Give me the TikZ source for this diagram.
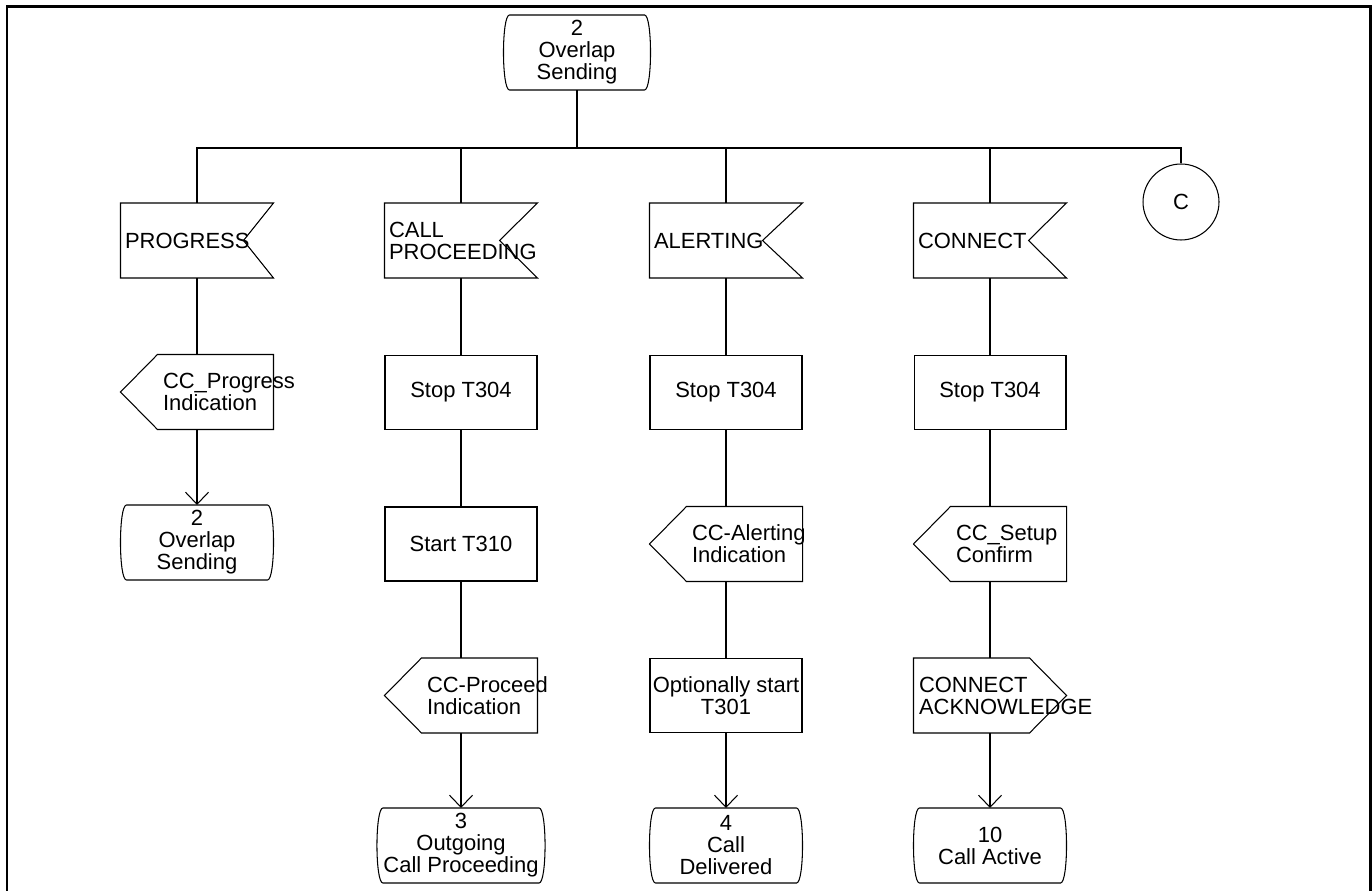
\documentclass[tikz,border=0pt]{standalone}
\usepackage{fontspec}
\setmainfont{Liberation Sans}
\usetikzlibrary{calc,arrows.meta}
\newcommand{\sdlfont}{\fontsize{12.5}{12.5}\selectfont\hyphenpenalty=10000\exhyphenpenalty=10000\relax}
\def\sdlinput(#1:#2){\draw (#1.north west) -- (#1.north east) -- ($(#1.east)+(-#2,0)$) -- (#1.south east) -- (#1.south west) -- cycle;}
\def\sdloutleft(#1){\draw (#1.north west) -- (#1.north east) -- (#1.south east) -- (#1.south west) -- ($(#1.west)+(-37,0)$) -- cycle;}
\def\sdloutright(#1){\draw (#1.north west) -- (#1.north east) -- ($(#1.east)+(37,0)$) -- (#1.south east) -- (#1.south west) -- cycle;}
\def\sdlstate(#1){\draw (#1.north west) -- (#1.north east) .. controls ($(#1.north east)+(8,0)$) and ($(#1.south east)+(8,0)$) .. (#1.south east) -- (#1.south west) .. controls ($(#1.south west)+(-8,0)$) and ($(#1.north west)+(-8,0)$) .. (#1.north west) -- cycle;}
\tikzset{
	sdl/.style={rectangle, inner sep=0pt, minimum height=1.48cm, font=\sdlfont},
	task/.style={sdl, draw, minimum width=3.04cm, align=center},
	state/.style={sdl, minimum width=2.8cm, align=center},
	insig/.style={sdl, minimum width=3.04cm, inner xsep=0.08cm, text width=2.88cm, align=left},
	outsig/.style={sdl, minimum width=2.3cm, inner xsep=0.1cm, text width=2.1cm, align=left},
	conn/.style={circle, draw, inner sep=0pt, minimum size=1.52cm, font=\sdlfont},
	sdlarrow/.style={-{Straight Barb[length=0.24cm,width=0.46cm]}}
}
\begin{document}
\begin{tikzpicture}[x=0.02cm, y=-0.02cm, line width=0.6pt]
			%%%%% START %%%%%
			\useasboundingbox (0,0) rectangle (1372,891);
			\draw[line width=1.7pt] (7,891) -- (7,7) -- (1370,7) -- (1370,891);
			
			% start state and branches
			\node[state, minimum width=2.68cm] (st0) at (577,52.5) {2\\Overlap\\Sending};
			\sdlstate(st0)
			\draw (st0.south) -- ++(0,58) coordinate (bus);
			
			\node[insig] (in1) at (197,240.5) {PROGRESS};
			\node[insig] (in2) at (461,240.5) {CALL\\PROCEEDING};
			\node[insig] (in3) at (726,240.5) {ALERTING};
			\node[insig] (in4) at (990,240.5) {CONNECT};
			\sdlinput(in1:30)
			\sdlinput(in2:38)
			\sdlinput(in3:40)
			\sdlinput(in4:38)
			\node[conn] (cc) at (1181,202) {C};
			
			\draw (in1.north) |- (bus);
			\draw (in2.north) |- (bus);
			\draw (in3.north) |- (bus);
			\draw (in4.north) |- (bus);
			\draw (cc.north) |- (bus);
			
			% PROGRESS
			\node[outsig] (out1) at (215.5,392) {CC\_Progress\\Indication};
			\sdloutleft(out1)
			\node[state] (st1) at (197,542.5) {2\\Overlap\\Sending};
			\sdlstate(st1)
			\draw (in1.south) -- (in1.south |- out1.north);
			\draw[sdlarrow] (st1.north |- out1.south) -- (st1.north);
			
			% CALL PROCEEDING
			\node[task] (stop2) at (461,392.5) {Stop T304};
			\node[task] (start2) at (461,544) {Start T310};
			\node[outsig] (out2) at (479.5,695.5) {CC-Proceed\\Indication};
			\sdloutleft(out2)
			\node[state] (st2) at (461,845.5) {3\\Outgoing\\Call Proceeding};
			\sdlstate(st2)
			\draw (in2.south) -- (stop2.north);
			\draw (stop2.south) -- (start2.north);
			\draw (start2.south) -- (start2.south |- out2.north);
			\draw[sdlarrow] (st2.north |- out2.south) -- (st2.north);
			
			% ALERTING
			\node[task] (stop3) at (726,392.5) {Stop T304};
			\node[outsig] (out3) at (744.5,544) {CC-Alerting\\Indication};
			\sdloutleft(out3)
			\node[task] (opt3) at (726,695.5) {Optionally start\\T301};
			\node[state] (st3) at (726,845.5) {4\\Call\\Delivered};
			\sdlstate(st3)
			\draw (in3.south) -- (stop3.north);
			\draw (stop3.south) -- (stop3.south |- out3.north);
			\draw (opt3.north |- out3.south) -- (opt3.north);
			\draw[sdlarrow] (opt3.south) -- (st3.north);
			
			% CONNECT
			\node[task] (stop4) at (990,392.5) {Stop T304};
			\node[outsig] (out4) at (1008.5,544) {CC\_Setup\\Confirm};
			\sdloutleft(out4)
			\node[outsig] (ack4) at (971.5,695.5) {CONNECT\\ACKNOWLEDGE};
			\sdloutright(ack4)
			\node[state] (st4) at (990,845.5) {10\\Call Active};
			\sdlstate(st4)
			\draw (in4.south) -- (stop4.north);
			\draw (stop4.south) -- (stop4.south |- out4.north);
			\draw (stop4.south |- out4.south) -- (stop4.south |- ack4.north);
			\draw[sdlarrow] (st4.north |- ack4.south) -- (st4.north);
			%%%%% END %%%%%
\end{tikzpicture}
\end{document}
